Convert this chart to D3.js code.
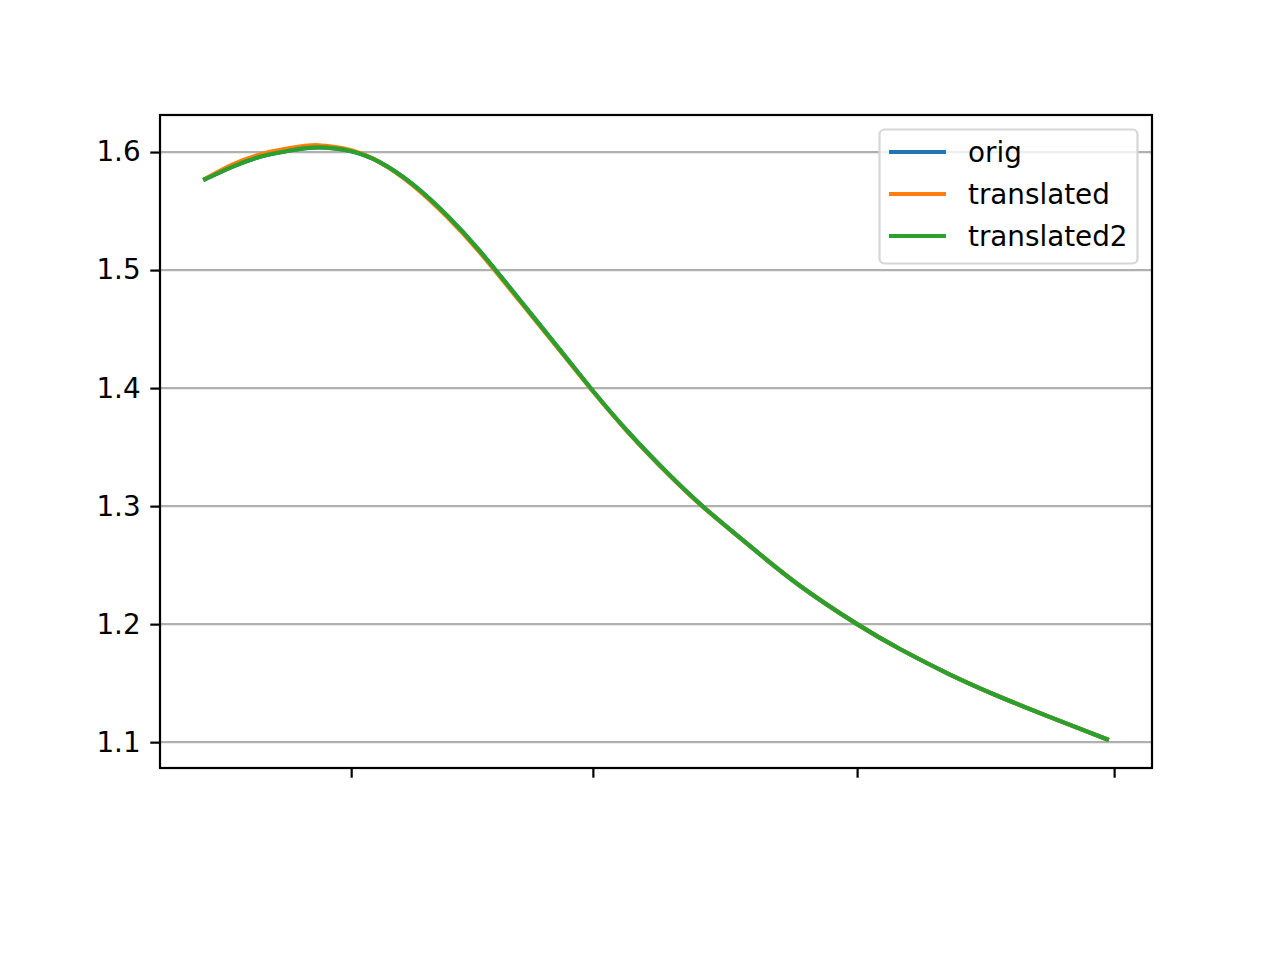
<!DOCTYPE html>
<html>
<head>
<meta charset="utf-8">
<script src="https://cdn.jsdelivr.net/npm/d3@7"></script>
<style>
  html, body { margin: 0; padding: 0; background: #fff; }
  svg { display: block; }
  text { font-family: "DejaVu Sans", sans-serif; }
</style>
</head>
<body>
<svg id="chart" width="1280" height="960"></svg>
<script>
// ---- data ----
const xs = [0, 3.0, 6.1, 9.4, 12.5, 16.1, 19.4, 23.0, 26.8, 30.5, 34.9, 39.4, 42.9, 47.1, 51.5, 55.4, 60.4, 65.8, 72.3, 77.1, 82.6, 88.1, 93.7, 100];
const origVals = [1.5770, 1.5875, 1.5960, 1.6013, 1.6040, 1.6009, 1.5913, 1.5728, 1.5465, 1.5158, 1.4746, 1.4320, 1.3986, 1.3613, 1.3263, 1.2983, 1.2663, 1.2334, 1.2000, 1.1787, 1.1573, 1.1385, 1.1212, 1.1025];
const translatedVals = [1.5773, 1.5893, 1.5980, 1.6033, 1.6058, 1.6017, 1.5913, 1.5720, 1.5453, 1.5146, 1.4736, 1.4312, 1.3982, 1.3609, 1.3260, 1.2981, 1.2663, 1.2334, 1.2000, 1.1787, 1.1573, 1.1385, 1.1212, 1.1025];
const translated2Vals = [1.5770, 1.5875, 1.5960, 1.6013, 1.6040, 1.6009, 1.5913, 1.5728, 1.5465, 1.5158, 1.4746, 1.4320, 1.3986, 1.3613, 1.3263, 1.2983, 1.2663, 1.2334, 1.2000, 1.1787, 1.1573, 1.1385, 1.1212, 1.1025];
const seriesNames = ["orig", "translated", "translated2"];
const seriesColors = ["#1f77b4", "#ff7f0e", "#2ca02c"];
const yTicks = [1.1, 1.2, 1.3, 1.4, 1.5, 1.6];
const xTicks = [16.2, 43.0, 72.3, 100.8];

// ---- layout ----
const plotL = 160, plotR = 1152, plotT = 115, plotB = 768;
const svg = d3.select("#chart");

const xMin = d3.min(xs), xMax = d3.max(xs), xPad = (xMax - xMin) * 0.05;
const x = d3.scaleLinear().domain([xMin - xPad, xMax + xPad]).range([plotL, plotR]);
const y = d3.scaleLinear().domain([1.0781, 1.6314]).range([plotB, plotT]);

// grid
svg.append("g").selectAll("line").data(yTicks).join("line")
  .attr("x1", plotL).attr("x2", plotR)
  .attr("y1", d => y(d)).attr("y2", d => y(d))
  .attr("stroke", "#b0b0b0").attr("stroke-width", 2.2);

// lines
const allSeries = [origVals, translatedVals, translated2Vals];
const line = d3.line().x((d, i) => x(xs[i])).y(d => y(d)).curve(d3.curveNatural);
allSeries.forEach((vals, k) => {
  svg.append("path").datum(vals)
    .attr("d", line)
    .attr("fill", "none")
    .attr("stroke", seriesColors[k])
    .attr("stroke-width", 4.17)
    .attr("stroke-linecap", "square")
    .attr("stroke-linejoin", "round");
});

// axes
const yAxis = d3.axisLeft(y).tickValues(yTicks).tickSize(9.7).tickPadding(9.7).tickFormat(d3.format(".1f"));
const gy = svg.append("g").attr("transform", `translate(${plotL},0)`).call(yAxis);
gy.select(".domain").remove();
gy.selectAll(".tick line").attr("stroke", "#000").attr("stroke-width", 2.2);
gy.selectAll(".tick text").attr("font-size", 27.8).attr("fill", "#000")
  .attr("font-family", "DejaVu Sans, sans-serif");

const xAxis = d3.axisBottom(x).tickValues(xTicks).tickSize(9.7).tickFormat(() => "");
const gx = svg.append("g").attr("transform", `translate(0,${plotB})`).call(xAxis);
gx.select(".domain").remove();
gx.selectAll(".tick line").attr("stroke", "#000").attr("stroke-width", 2.2);

// frame
svg.append("rect").attr("x", plotL).attr("y", plotT)
  .attr("width", plotR - plotL).attr("height", plotB - plotT)
  .attr("fill", "none").attr("stroke", "#000").attr("stroke-width", 2.2);

// legend
const lg = svg.append("g");
lg.append("rect").attr("x", 879.5).attr("y", 129.5).attr("width", 258).attr("height", 134)
  .attr("rx", 5).attr("ry", 5)
  .attr("fill", "rgba(255,255,255,0.8)").attr("stroke", "#d6d6d6").attr("stroke-width", 2.2);
seriesNames.forEach((name, i) => {
  const cy = 152 + i * 42;
  lg.append("line").attr("x1", 889).attr("x2", 946).attr("y1", cy).attr("y2", cy)
    .attr("stroke", seriesColors[i]).attr("stroke-width", 4.17);
  lg.append("text").attr("x", 968).attr("y", cy).attr("dy", "0.36em")
    .attr("font-size", 27.8).attr("fill", "#000").text(name);
});
</script>
</body>
</html>
